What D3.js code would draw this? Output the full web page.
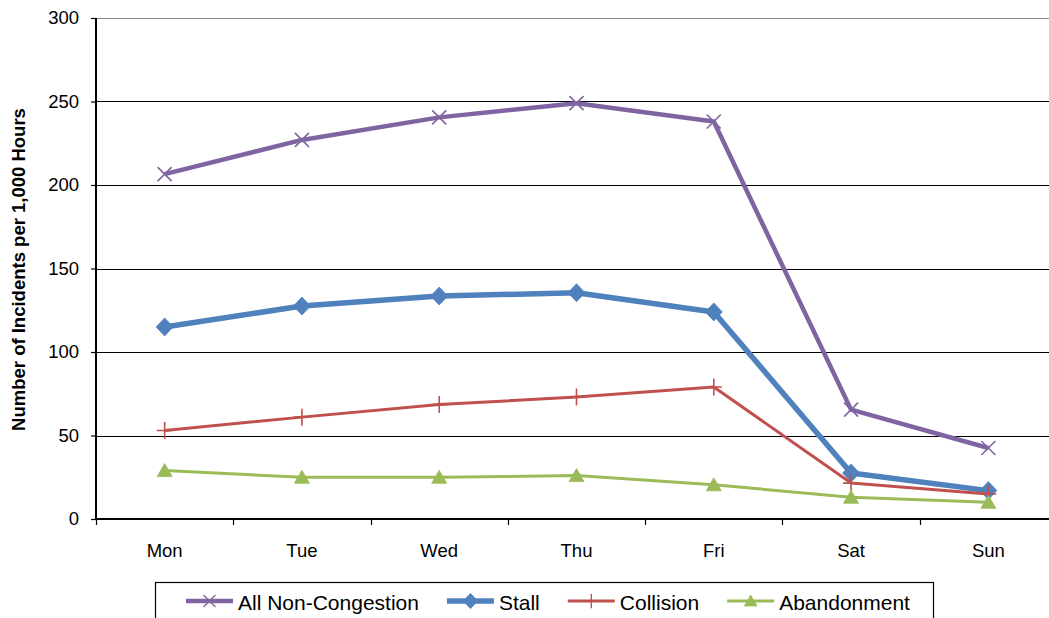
<!DOCTYPE html>
<html>
<head>
<meta charset="utf-8">
<script src="https://cdn.jsdelivr.net/npm/d3@7"></script>
<style>
  html, body { margin: 0; padding: 0; background: #fff; }
  svg { display: block; }
  text { font-family: "Liberation Sans", Arial, sans-serif; fill: #000; }
</style>
</head>
<body>
<svg id="chart" width="1049" height="618"></svg>
<script>
// ---- Data ----
const days = ["Mon", "Tue", "Wed", "Thu", "Fri", "Sat", "Sun"];
const allNonCongestion = [206.5, 227, 240.5, 249, 238, 65.5, 42.5];
const stall = [115, 127.5, 133.5, 135.5, 124, 27.5, 17];
const collision = [53, 61, 68.5, 73, 79, 21.5, 15];
const abandonment = [29, 25, 25, 26, 20.5, 13, 10];
const yTicks = [0, 50, 100, 150, 200, 250, 300];
const seriesNames = ["All Non-Congestion", "Stall", "Collision", "Abandonment"];
const yTitle = "Number of Incidents per 1,000 Hours";

(function () {
const series = [
  { name: seriesNames[0], values: allNonCongestion, color: "#8064A2", width: 4.5, marker: "x" },
  { name: seriesNames[1], values: stall, color: "#4F81BD", width: 5.5, marker: "diamond" },
  { name: seriesNames[2], values: collision, color: "#C0504D", width: 3, marker: "plus" },
  { name: seriesNames[3], values: abandonment, color: "#9BBB59", width: 3, marker: "triangle" }
];

const svg = d3.select("#chart");
const pLeft = 96, pRight = 1057, pTop = 18, pBottom = 519;

const x = d3.scaleBand().domain(days).range([pLeft, pRight]).padding(0);
const y = d3.scaleLinear().domain([0, 300]).range([pBottom, pTop]);
const cx = d => x(d) + x.bandwidth() / 2;

// gridlines
svg.append("g").selectAll("line")
  .data(yTicks.filter(t => t > 0))
  .join("line")
  .attr("x1", pLeft).attr("x2", 1049)
  .attr("y1", d => Math.round(y(d)) + 0.5)
  .attr("y2", d => Math.round(y(d)) + 0.5)
  .attr("stroke", d => d === 300 ? "#8a8a8a" : "#000")
  .attr("stroke-width", 1.2);

// y axis
const yAxis = d3.axisLeft(y).tickValues(yTicks).tickSize(5).tickPadding(12);
const gy = svg.append("g").attr("transform", `translate(${pLeft},0)`).call(yAxis);
gy.select(".domain").remove();
gy.selectAll(".tick line").attr("stroke", "#000").attr("stroke-width", 1.2);
gy.selectAll(".tick text").style("font-size", "18.5px").attr("fill", "#000")
  .style("font-family", '"Liberation Sans", Arial, sans-serif');
svg.append("line").attr("x1", pLeft).attr("x2", pLeft).attr("y1", pTop).attr("y2", pBottom + 1)
  .attr("stroke", "#000").attr("stroke-width", 2);

// x axis
const gx = svg.append("g").attr("transform", `translate(0,${pBottom})`);
gx.append("line").attr("x1", pLeft - 1).attr("x2", 1049).attr("y1", 0).attr("y2", 0)
  .attr("stroke", "#000").attr("stroke-width", 2);
const bounds = days.map(d => x(d)).concat([x(days[days.length - 1]) + x.bandwidth()]);
gx.selectAll("line.tk").data(bounds).join("line").attr("class", "tk")
  .attr("x1", d => Math.round(d) + 0.5).attr("x2", d => Math.round(d) + 0.5)
  .attr("y1", 0).attr("y2", 6).attr("stroke", "#000").attr("stroke-width", 1.2);
gx.selectAll("text").data(days).join("text")
  .attr("x", d => cx(d)).attr("y", 38)
  .attr("text-anchor", "middle").style("font-size", "18.5px").text(d => d);

// y title
svg.append("text")
  .attr("transform", `translate(25,${(pTop + pBottom) / 2 + 1}) rotate(-90)`)
  .attr("text-anchor", "middle")
  .style("font-size", "18.5px").style("font-weight", "bold")
  .text(yTitle);

// markers
function markerPath(type) {
  switch (type) {
    case "x": return "M-7,-7L7,7M-7,7L7,-7";
    case "diamond": return "M0,-9L8.5,0L0,9L-8.5,0Z";
    case "plus": return "M0,-8.5L0,8.5M-8,0L8,0";
    case "triangle": return "M0,-7L7.5,6L-7.5,6Z";
  }
}
function drawMarker(g, type, color) {
  const p = g.append("path").attr("d", markerPath(type));
  if (type === "x" || type === "plus") {
    p.attr("fill", "none").attr("stroke", color).attr("stroke-width", 1.6);
  } else {
    p.attr("fill", color).attr("stroke", color).attr("stroke-width", 0.8);
  }
}

const line = d3.line().x((v, i) => cx(days[i])).y(v => y(v));

series.forEach(s => {
  const g = svg.append("g");
  g.append("path").datum(s.values).attr("d", line)
    .attr("fill", "none").attr("stroke", s.color).attr("stroke-width", s.width)
    .attr("stroke-linejoin", "round");
  s.values.forEach((v, i) => {
    const mg = g.append("g").attr("transform", `translate(${cx(days[i])},${y(v)})`);
    drawMarker(mg, s.marker, s.color);
  });
});

// legend
const lg = svg.append("g");
lg.append("rect").attr("x", 155.5).attr("y", 582.5).attr("width", 778).attr("height", 60)
  .attr("fill", "#fff").attr("stroke", "#000").attr("stroke-width", 1.2);
let lx = 186;
const ly = 601;
series.forEach(s => {
  lg.append("line").attr("x1", lx).attr("x2", lx + 47).attr("y1", ly).attr("y2", ly)
    .attr("stroke", s.color).attr("stroke-width", s.width);
  const mg = lg.append("g").attr("transform", `translate(${lx + 23.5},${ly}) scale(0.85)`);
  drawMarker(mg, s.marker, s.color);
  const t = lg.append("text").attr("x", lx + 52).attr("y", ly + 9)
    .style("font-size", "21px").text(s.name);
  lx = lx + 52 + t.node().getComputedTextLength() + 28;
});
})();
</script>
</body>
</html>
